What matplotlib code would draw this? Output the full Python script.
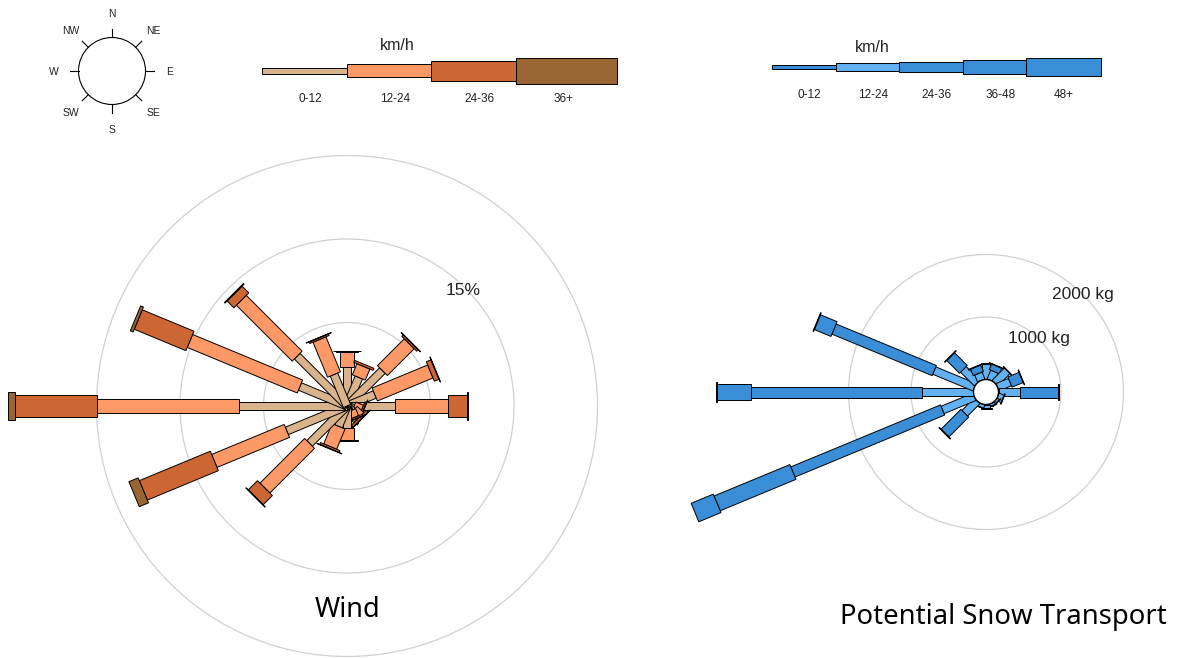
import numpy as np
import matplotlib
matplotlib.use("Agg")
import matplotlib.pyplot as plt
from matplotlib.patches import Polygon, Circle

W, H = 1178, 658

# 16 directions, clockwise from north
directions = ['N', 'NNE', 'NE', 'ENE', 'E', 'ESE', 'SE', 'SSE',
              'S', 'SSW', 'SW', 'WSW', 'W', 'WNW', 'NW', 'NNW']
angles = np.arange(16) * 22.5

# wind frequency (%) per speed class
wind_bins = ['0-12', '12-24', '24-36', '36+']
wind_0_12 = [2.35, 1.85, 3.0, 1.8, 2.87, 0.4, 0.45, 0.35, 1.34, 1.32, 3.17, 3.9, 6.47, 3.05, 4.22, 2.04]
wind_12_24 = [0.9, 0.72, 2.27, 3.6, 3.18, 0.5, 0.55, 0.45, 0.7, 1.31, 3.78, 4.7, 8.5, 7.13, 4.73, 2.27]
wind_24_36 = [0.03, 0.13, 0.12, 0.3, 1.14, 0.1, 0.15, 0.1, 0.03, 0.12, 0.78, 4.6, 4.91, 3.35, 0.57, 0.1]
wind_36p = [0.02, 0.0, 0.03, 0.03, 0.03, 0.02, 0.03, 0.02, 0.0, 0.02, 0.03, 0.6, 0.42, 0.18, 0.05, 0.02]
wind_rings = [5, 10, 15]

# potential snow transport (kg) per speed class
snow_bins = ['0-12', '12-24', '24-36', '36-48', '48+']
snow_0_12 = [0] * 16
snow_12_24 = [248, 152, 280, 216, 344, 88, 40, 40, 56, 56, 280, 552, 824, 696, 312, 120]
snow_24_36 = [10, 96, 8, 192, 608, 10, 8, 8, 8, 8, 448, 2592, 2736, 1736, 288, 112]
snow_36_48 = [0, 8, 0, 8, 10, 0, 0, 0, 0, 0, 10, 1312, 544, 288, 10, 8]
snow_48p = [0, 0, 0, 0, 0, 0, 0, 0, 0, 0, 0, 384, 20, 10, 0, 0]
snow_rings = [1000, 2000]

compass_labels = ['N', 'NE', 'E', 'SE', 'S', 'SW', 'W', 'NW']

wind_colors = ['#D9B38C', '#FC9966', '#CC6633', '#996633']
snow_colors = ['#3A8ED8', '#63B1F0', '#3A8ED8', '#3A8ED8', '#3A8ED8']


def px_axes(fig, left, top, right, bottom, cx, cy, scale):
    """Axes placed by pixel box, with data units = pixels / scale around (cx, cy)."""
    ax = fig.add_axes([left / W, 1 - bottom / H, (right - left) / W, (bottom - top) / H])
    ax.set_xlim((left - cx) / scale, (right - cx) / scale)
    ax.set_ylim((cy - bottom) / scale, (cy - top) / scale)
    ax.axis('off')
    return ax


def bar_segment(ax, angle, r0, r1, width, color):
    a = np.radians(angle)
    u = np.array([np.sin(a), np.cos(a)])
    v = np.array([np.cos(a), -np.sin(a)]) * width / 2
    pts = [r0 * u - v, r1 * u - v, r1 * u + v, r0 * u + v]
    ax.add_patch(Polygon(pts, closed=True, fc=color, ec='black', lw=0.7, zorder=3))


def rose(ax, series, widths, colors, rings, offset=0):
    for ring in rings:
        ax.add_patch(Circle((0, 0), offset + ring, fill=False, ec='#d0d0d0', lw=0.9, zorder=1))
    for i, ang in enumerate(angles):
        r = offset
        for vals, w, c in zip(series, widths, colors):
            if vals[i] > 0:
                bar_segment(ax, ang, r, r + vals[i], w, c)
            r += vals[i]


def speed_legend(ax, x0, yc, seg_len, last_len, heights, colors, labels, title_xy):
    n = len(labels)
    lengths = [seg_len] * (n - 1) + [last_len]
    lefts = x0 + np.concatenate([[0], np.cumsum(lengths)[:-1]])
    ax.barh(yc, lengths, left=lefts, height=heights, color=colors, edgecolor='black', lw=0.7)
    for i, lab in enumerate(labels):
        ax.text(x0 + (i + 0.5) * seg_len + 6, yc + 28, lab, ha='center', va='center',
                fontsize=8.5, family='Liberation Sans', color='#222222')
    ax.text(*title_xy, 'km/h', ha='center', va='center', fontsize=11.5,
            family='Liberation Sans', color='#222222')


fig = plt.figure(figsize=(W / 100, H / 100), dpi=100)

# wind rose
ax_w = px_axes(fig, 0, 140, 660, 658, 347, 406, 16.7)
rose(ax_w, [wind_0_12, wind_12_24, wind_24_36, wind_36p],
     [0.48, 0.84, 1.26, 1.62], wind_colors, wind_rings)
a45 = np.radians(45)
ax_w.text(9.8 * np.sin(a45), 9.8 * np.cos(a45), '15%', ha='center', va='center',
          fontsize=12.5, family='Liberation Sans', color='#222222', zorder=4)

# snow transport rose
snow_offset = 200
ax_s = px_axes(fig, 660, 140, 1178, 658, 986, 392, 0.0625)
rose(ax_s, [snow_0_12, snow_12_24, snow_24_36, snow_36_48, snow_48p],
     [64, 128, 176, 256, 320], snow_colors, snow_rings, offset=snow_offset)
ax_s.add_patch(Circle((0, 0), snow_offset, fc='white', ec='black', lw=1.0, zorder=4))
for ring in snow_rings:
    rr = ring + snow_offset
    ax_s.text(rr * np.sin(a45), rr * np.cos(a45), f'{ring} kg', ha='center', va='center',
              fontsize=12.5, family='Liberation Sans', color='#222222', zorder=4)

# legends (pixel coordinates)
ax_top = fig.add_axes([0, 0, 1, 1])
ax_top.set_xlim(0, W)
ax_top.set_ylim(H, 0)
ax_top.axis('off')
speed_legend(ax_top, 262, 70.5, 84.5, 101, [6, 13, 20, 26], wind_colors, wind_bins, (397, 45))
speed_legend(ax_top, 772, 67, 63.5, 75, [4, 8, 10.5, 13.5, 18], snow_colors, snow_bins, (872, 48))

# compass
ax_c = px_axes(fig, 0, 0, 230, 150, 112, 71, 1.0)
ax_c.add_patch(Circle((0, 0), 33.5, fill=False, ec='black', lw=0.8))
for k, lab in enumerate(compass_labels):
    a = np.radians(k * 45)
    ax_c.plot([33.5 * np.sin(a), 42 * np.sin(a)], [33.5 * np.cos(a), 42 * np.cos(a)],
              color='black', lw=0.8)
    ax_c.text(58 * np.sin(a), 58 * np.cos(a) - 1, lab, ha='center', va='center',
              fontsize=7.5, family='Liberation Sans', color='#222222')

fig.text(347 / W, 1 - 610 / H, 'Wind', ha='center', va='center', fontsize=19.5, family='Noto Sans')
fig.text(1003 / W, 1 - 617 / H, 'Potential Snow Transport', ha='center', va='center',
         fontsize=19.8, family='Noto Sans')

fig.savefig('out.png', dpi=100)
